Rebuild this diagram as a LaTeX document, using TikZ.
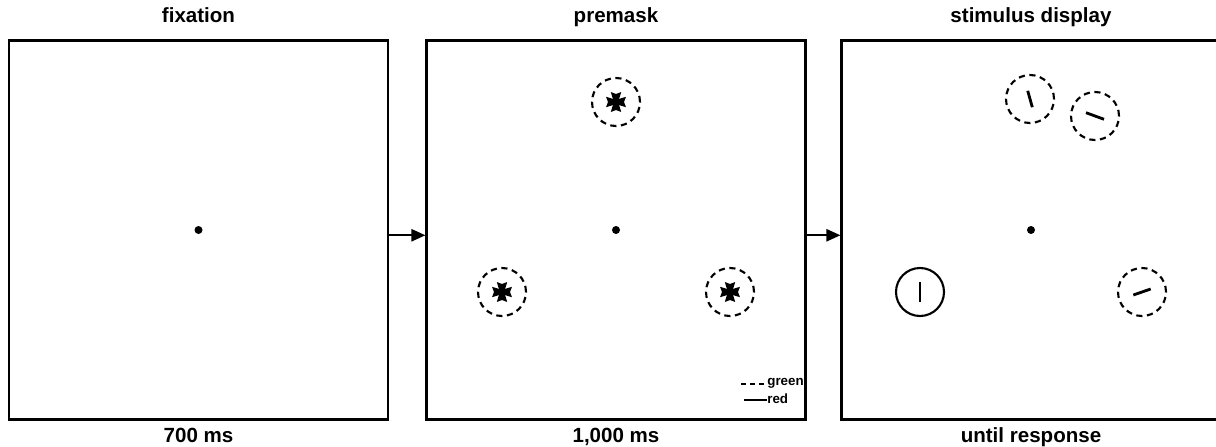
\documentclass[tikz,border=0pt]{standalone}
\usepackage{fontspec}
\setmainfont{Liberation Sans}
\usepackage{tikz}
\usetikzlibrary{arrows.meta, positioning}

\newcommand{\maskcross}[1]{%
  \foreach \a in {0,90,180,270}
    \fill[shift={(#1)}, rotate=\a] (0,-2.2) -- (10,-5.2) -- (8,0) -- (10,5.2) -- (0,2.2) -- cycle;
  \fill (#1) circle (0.055cm);
}

\begin{document}
\begin{tikzpicture}[x=0.02cm, y=-0.02cm,
    frame/.style={draw, line width=1.3pt, minimum size=7.58cm, inner sep=0pt},
    title/.style={font=\bfseries\fontsize{11.7}{14}\selectfont, text height=1.6ex, text depth=.45ex},
    legendtext/.style={font=\bfseries\fontsize{7.6}{9}\selectfont, inner sep=0pt, anchor=west},
    ring/.style={draw, circle, line width=1.2pt, minimum size=0.96cm, inner sep=0pt},
    maskring/.style={ring, dash pattern=on 3.5pt off 2.6pt},
    fixdot/.style={fill, circle, minimum size=0.16cm, inner sep=0pt},
    bar/.style={line width=1.6pt},
    next/.style={-{Triangle[length=8pt, width=7pt]}, line width=1pt}]
    \useasboundingbox (0,0) rectangle (1216,446);
    \clip (0,0) rectangle (1216,446);

    % the three displays
    \node[frame] (fix) at (198.5,230) {};
    \node[frame] (pre) at (616,230) {};
    \node[frame] (stim) at (1031,230) {};

    \node[title, above=0.13cm of fix] {fixation};
    \node[title, above=0.13cm of pre] {premask};
    \node[title, above=0.13cm of stim] {stimulus display};
    \node[title, below=0.1cm of fix, inner ysep=1pt] {700 ms};
    \node[title, below=0.1cm of pre, inner ysep=1pt] {1,000 ms};
    \node[title, below=0.1cm of stim, inner ysep=1pt] {until response};

    \draw[next] ([yshift=-3]fix.east) -- ([yshift=-3]pre.west);
    \draw[next] ([yshift=-3]pre.east) -- ([yshift=-3]stim.west);

    % fixation points
    \node[fixdot] (dotfix) at (fix.center) {};
    \node[fixdot] (dotpre) at (pre.center) {};
    \node[fixdot] (dotstim) at (stim.center) {};

    % premask
    \node[maskring] (mtop) at (616,102) {};
    \node[maskring] (mleft) at (502,292) {};
    \node[maskring] (mright) at (730,292) {};
    \maskcross{mtop}
    \maskcross{mleft}
    \maskcross{mright}

    \node[legendtext] (lgreen) at (767,383) {green};
    \node[legendtext] (lred) at (767,399) {red};
    \coordinate (gstart) at (741,384);
    \coordinate (rstart) at (744,400);
    \draw[line width=0.9pt, dash pattern=on 3pt off 2pt] (gstart) -- (lgreen.west |- gstart);
    \draw[line width=0.9pt] (rstart) -- (lred.west |- rstart);

    % stimulus display
    \node[maskring] (sone) at (1030,99) {};
    \node[maskring] (stwo) at (1095,116) {};
    \node[ring] (sthree) at (920,292) {};
    \node[maskring] (sfour) at (1142,292) {};
    \draw[bar] ([shift={(-2.3,-8.2)}]sone.center) -- ([shift={(2.3,8.2)}]sone.center);
    \draw[bar] ([shift={(-9,-3.3)}]stwo.center) -- ([shift={(9,3.3)}]stwo.center);
    \draw[bar] ([shift={(0,-10)}]sthree.center) -- ([shift={(0,10)}]sthree.center);
    \draw[bar] ([shift={(-8.7,3)}]sfour.center) -- ([shift={(8.7,-3)}]sfour.center);
\end{tikzpicture}
\end{document}
